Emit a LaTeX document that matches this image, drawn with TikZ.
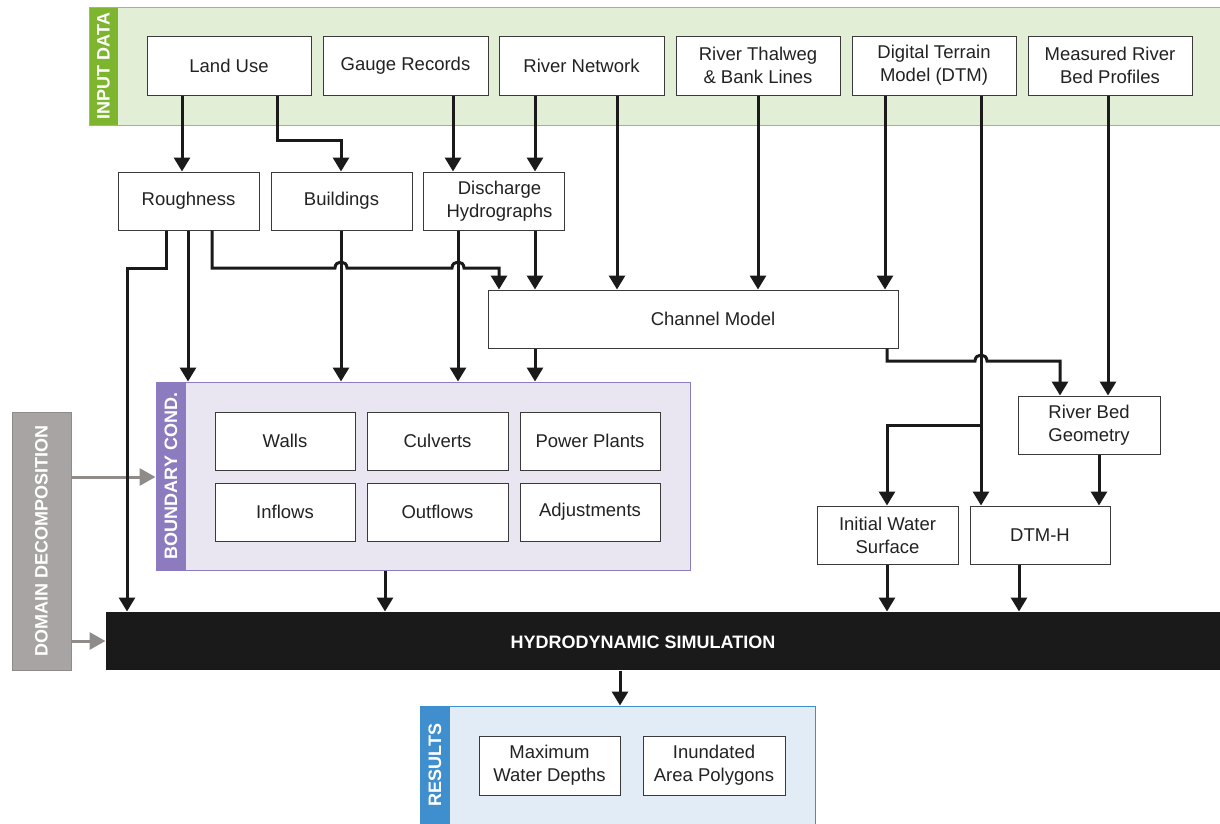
\documentclass[tikz,border=0pt]{standalone}
\usepackage{fontspec}
\setmainfont{Liberation Sans}
\usetikzlibrary{arrows.meta}
\definecolor{ingreen}{HTML}{7DB52F}
\definecolor{ingreenbg}{HTML}{E2EFD6}
\definecolor{bcpurple}{HTML}{8C7BBE}
\definecolor{bcpurplebg}{HTML}{E9E6F2}
\definecolor{resblue}{HTML}{3F8FCF}
\definecolor{resbluebg}{HTML}{E1ECF6}
\definecolor{domgray}{HTML}{A7A4A3}
\definecolor{arrgray}{HTML}{8E8B89}
\definecolor{simblack}{HTML}{1A1A1A}
\definecolor{boxline}{HTML}{3A3A3A}
\definecolor{txt}{HTML}{222222}
\tikzset{
  box/.style={draw=boxline, line width=1pt, fill=white, inner sep=0pt, align=center,
    text=txt, font=\fontsize{18.5}{23}\selectfont},
  panel/.style={inner sep=0pt, line width=1pt},
  striptext/.style={rotate=90, text=white, font=\bfseries\fontsize{18}{20}\selectfont, inner sep=0pt},
  conn/.style={draw=simblack, line width=3pt, -{Triangle[length=14pt,width=16pt]}},
  gconn/.style={draw=arrgray, line width=3pt, -{Triangle[length=16pt,width=17pt]}},
}
\begin{document}
\begin{tikzpicture}[x=1pt,y=-1pt]
\useasboundingbox (0,0) rectangle (1220,823);
% panels
\node[panel, draw=ingreen!80, fill=ingreenbg, minimum width=1136pt, minimum height=118pt] (inpanel) at (657,66) {};
\fill[ingreen] (89.5,7.5) rectangle (118,124.5);
\node[striptext] (inlabel) at (103.5,66) {INPUT DATA};
\node[panel, draw=bcpurple, fill=bcpurplebg, minimum width=534pt, minimum height=188pt] (bc) at (423,476) {};
\fill[bcpurple] (156.5,382.5) rectangle (186,569.5);
\node[striptext] (bclabel) at (171,476) {BOUNDARY COND.};
\node[panel, draw=resblue, fill=resbluebg, minimum width=395pt, minimum height=130pt] (results) at (617.5,771) {};
\fill[resblue] (420.5,706.5) rectangle (450,836);
\node[striptext] (reslabel) at (435,765) {RESULTS};
\node[panel, draw=domgray!85!black, fill=domgray, minimum width=59pt, minimum height=258pt] (domain) at (41.5,541) {};
\node[striptext] (domlabel) at (41.5,541) {DOMAIN DECOMPOSITION};
\node[panel, fill=simblack, minimum width=1120pt, minimum height=58pt] (sim) at (666,641) {};
\node[text=white, font=\bfseries\fontsize{18}{20}\selectfont, inner sep=0pt] (simlabel) at (643,642) {HYDRODYNAMIC SIMULATION};
% input boxes
\node[box, minimum width=164pt, minimum height=59pt] (landuse) at (229,65.5) {Land Use};
\node[box, minimum width=165pt, minimum height=59pt] (gauge) at (405.5,65.5) {Gauge Records};
\node[box, minimum width=165pt, minimum height=59pt] (rivnet) at (581.5,65.5) {River Network};
\node[box, minimum width=164pt, minimum height=59pt] (thalweg) at (758,65.5) {River Thalweg\\\& Bank Lines};
\node[box, minimum width=164pt, minimum height=59pt] (dtm) at (934,65.5) {Digital Terrain\\Model (DTM)};
\node[box, minimum width=164pt, minimum height=59pt] (measured) at (1110,65.5) {Measured River\\Bed Profiles};
% second row
\node[box, minimum width=141pt, minimum height=58pt] (rough) at (188.5,201) {Roughness};
\node[box, minimum width=141pt, minimum height=58pt] (build) at (341.5,201) {Buildings};
\node[box, minimum width=141pt, minimum height=58pt] (disch) at (493.5,201) {\hspace*{12pt}Discharge\\\hspace*{12pt}Hydrographs};
\node[box, minimum width=410pt, minimum height=58pt] (channel) at (693,319) {\hspace*{40pt}Channel Model};
% boundary boxes
\node[box, minimum width=140pt, minimum height=58pt] (walls) at (285,441) {Walls};
\node[box, minimum width=141pt, minimum height=58pt] (culverts) at (437.5,441) {Culverts};
\node[box, minimum width=140pt, minimum height=58pt] (power) at (590,441) {Power Plants};
\node[box, minimum width=140pt, minimum height=58pt] (inflows) at (285,512) {Inflows};
\node[box, minimum width=141pt, minimum height=58pt] (outflows) at (437.5,512) {Outflows};
\node[box, minimum width=140pt, minimum height=58pt] (adjust) at (590,512) {Adjustments};
% right side
\node[box, minimum width=142pt, minimum height=58pt] (rbg) at (1089,425) {River Bed\\Geometry};
\node[box, minimum width=141pt, minimum height=58pt] (iws) at (887.5,535) {Initial Water\\Surface};
\node[box, minimum width=140pt, minimum height=58pt] (dtmh) at (1040,535) {DTM-H};
% results
\node[box, minimum width=141pt, minimum height=59pt] (maxwd) at (549.5,765.5) {Maximum\\Water Depths};
\node[box, minimum width=142pt, minimum height=59pt] (inund) at (714,765.5) {Inundated\\Area Polygons};
% gray arrows
\draw[gconn] (domain.east |- 0,477) -- (bc.west |- 0,477);
\draw[gconn] (domain.east |- 0,641) -- (sim.west |- 0,641);
% connectors
\draw[conn] (182,0 |- landuse.south) -- (182,0 |- rough.north);
\draw[conn] (277,0 |- landuse.south) -- (277,140) -| (341,0 |- build.north);
\draw[conn] (453,0 |- gauge.south) -- (453,0 |- disch.north);
\draw[conn] (535,0 |- rivnet.south) -- (535,0 |- disch.north);
\draw[conn] (617,0 |- rivnet.south) -- (617,0 |- channel.north);
\draw[conn] (758,0 |- thalweg.south) -- (758,0 |- channel.north);
\draw[conn] (885,0 |- dtm.south) -- (885,0 |- channel.north);
\draw[conn] (981,0 |- dtm.south) -- (981,0 |- dtmh.north);
\draw[conn] (981,425) -- (887,425) -- (887,0 |- iws.north);
\draw[conn] (1108,0 |- measured.south) -- (1108,0 |- rbg.north);
\draw[conn] (1099,0 |- rbg.south) -- (1099,0 |- dtmh.north);
\draw[conn] (166,0 |- rough.south) -- (166,268) -- (127,268) -- (127,0 |- sim.north);
\draw[conn] (188,0 |- rough.south) -- (188,0 |- bc.north);
\draw[conn] (212,0 |- rough.south) -- (212,268) -- (335,268)
   .. controls (335,260) and (347,260) .. (347,268) -- (452,268)
   .. controls (452,260) and (464,260) .. (464,268) -- (499,268) -- (499,0 |- channel.north);
\draw[conn] (341,0 |- build.south) -- (341,0 |- bc.north);
\draw[conn] (458,0 |- disch.south) -- (458,0 |- bc.north);
\draw[conn] (535,0 |- disch.south) -- (535,0 |- channel.north);
\draw[conn] (535,0 |- channel.south) -- (535,0 |- bc.north);
\draw[conn] (887,0 |- channel.south) -- (887,361) -- (975,361)
   .. controls (975,353) and (987,353) .. (987,361) -- (1060,361) -- (1060,0 |- rbg.north);
\draw[conn] (385,0 |- bc.south) -- (385,0 |- sim.north);
\draw[conn] (887,0 |- iws.south) -- (887,0 |- sim.north);
\draw[conn] (1019,0 |- dtmh.south) -- (1019,0 |- sim.north);
\draw[conn] (620,0 |- sim.south) -- (620,0 |- results.north);
\end{tikzpicture}
\end{document}
